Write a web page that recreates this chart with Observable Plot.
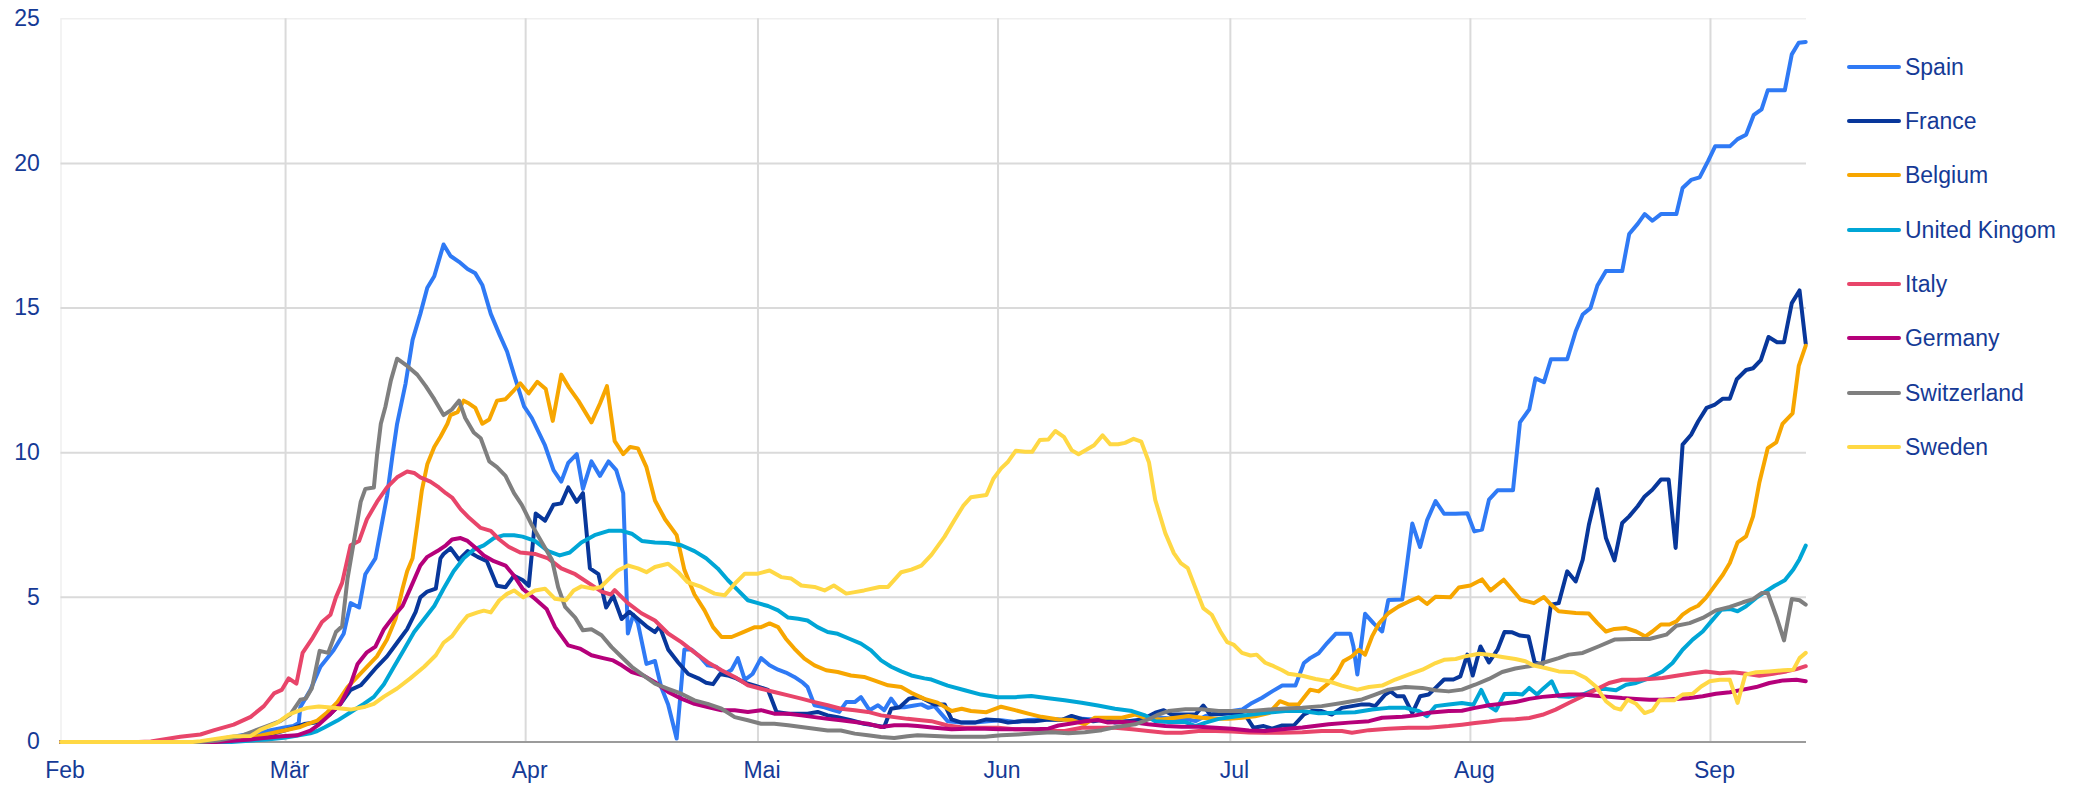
<!DOCTYPE html>
<html>
<head>
<meta charset="utf-8">
<script src="https://cdn.jsdelivr.net/npm/d3@7"></script>
<script src="https://cdn.jsdelivr.net/npm/@observablehq/plot@0.6"></script>
<style>
  html, body { margin: 0; padding: 0; background: #fff; }
  #wrap { position: relative; width: 2079px; height: 786px; overflow: hidden; font-family: "Liberation Sans", Arial, sans-serif; }
  #legend { position: absolute; left: 1846.7px; top: 0; }
  .row { position: absolute; left: 0; height: 30px; display: flex; align-items: center; white-space: nowrap;
         font-size: 23px; line-height: 30px; color: #153a96; }
  .sw { display: inline-block; width: 54px; height: 4px; border-radius: 2px; margin-right: 4.3px; }
</style>
</head>
<body>
<div id="wrap"><div id="chart"></div><div id="legend"></div></div>
<script>
// Days are counted from 1 Feb 2020 (day 0).
const countries = ["Spain", "France", "Belgium", "United Kingom", "Italy", "Germany", "Switzerland", "Sweden"];
const colors = ["#2f7af5", "#08379b", "#f7a600", "#00a6d6", "#e8456a", "#b5007a", "#7f7f7f", "#ffd844"];
const monthLabels = ["Feb", "Mär", "Apr", "Mai", "Jun", "Jul", "Aug", "Sep"];
const yTicks = [0, 5, 10, 15, 20, 25];
const lastDay = 225.4;

const spain = [[0,0],[18,0],[20.2,0.09],[26.6,0.38],[28.7,0.49],[30.0,0.55],[30.7,0.66],[30.9,1.2],[32.2,1.8],[33.5,2.6],[35.2,3.17],[36.5,3.74],[37.4,4.8],[38.5,4.65],[39.3,5.8],[40.6,6.35],[42.1,8.5],[42.8,9.9],[43.4,11.0],[44.5,12.4],[45.4,13.9],[46.4,14.8],[47.3,15.7],[48.2,16.1],[49.4,17.2],[50.3,16.8],[51.4,16.6],[52.5,16.35],[53.5,16.2],[54.4,15.8],[55.5,14.8],[56.6,14.1],[57.6,13.5],[58.5,12.7],[59.8,11.6],[60.8,11.2],[62.5,10.25],[63.6,9.4],[64.6,9.0],[65.5,9.65],[66.6,9.95],[67.4,8.75],[68.5,9.7],[69.6,9.2],[70.7,9.7],[71.7,9.4],[72.6,8.6],[73.2,3.75],[73.9,4.4],[74.5,4.1],[75.6,2.7],[76.7,2.8],[77.5,1.9],[78.4,1.3],[79.5,0.12],[80.5,3.2],[81.4,3.2],[82.5,2.95],[83.5,2.65],[84.6,2.6],[85.7,2.35],[86.6,2.5],[87.4,2.9],[88.3,2.15],[89.3,2.35],[90.4,2.9],[91.5,2.65],[92.6,2.5],[93.6,2.4],[94.7,2.25],[95.8,2.05],[96.4,1.9],[97.3,1.27],[98.6,1.2],[99.7,1.1],[100.5,1.04],[101.4,1.38],[102.5,1.38],[103.3,1.55],[104.4,1.1],[105.5,1.27],[106.3,1.1],[107.2,1.5],[108.0,1.2],[108.9,1.2],[110.2,1.26],[111.1,1.3],[112.0,1.18],[112.8,1.24],[114.5,0.72],[116.3,0.67],[118.0,0.67],[119.7,0.72],[121.4,0.75],[123.2,0.69],[124.9,0.76],[126.6,0.78],[128.3,0.78],[130.1,0.78],[131.8,0.8],[133.5,0.78],[135.2,0.78],[137.0,0.72],[138.7,0.72],[140.4,0.84],[142.1,0.84],[143.9,0.8],[145.6,0.78],[146.5,0.72],[147.8,0.9],[149.5,1.01],[151.2,1.07],[152.5,1.12],[153.8,1.35],[155.1,1.53],[156.4,1.75],[157.7,1.95],[159.4,1.95],[160.5,2.73],[161.3,2.9],[162.4,3.07],[163.5,3.42],[164.6,3.74],[166.5,3.74],[166.9,3.3],[167.4,2.33],[168.4,4.43],[169.5,4.1],[170.6,3.82],[171.4,4.91],[173.2,4.93],[173.6,5.71],[174.5,7.55],[175.5,6.74],[176.4,7.66],[177.5,8.33],[178.6,7.89],[180.1,7.89],[181.6,7.91],[182.5,7.28],[183.5,7.34],[184.4,8.38],[185.5,8.7],[187.5,8.7],[188.4,11.05],[189.6,11.5],[190.4,12.57],[191.5,12.44],[192.4,13.23],[194.5,13.23],[195.6,14.2],[196.5,14.78],[197.5,15.0],[198.4,15.78],[199.5,16.28],[201.6,16.28],[202.5,17.56],[203.6,17.91],[204.5,18.25],[205.5,18.02],[206.6,18.25],[208.6,18.25],[209.4,19.15],[210.5,19.43],[211.6,19.52],[212.7,20.09],[213.6,20.59],[215.5,20.59],[216.5,20.84],[217.6,20.99],[218.6,21.68],[219.6,21.87],[220.4,22.53],[222.6,22.53],[223.5,23.77],[224.4,24.17],[225.3,24.2]];

const france = [[0,0],[18,0],[22.0,0.09],[26.6,0.23],[28.6,0.38],[30.0,0.49],[31.4,0.62],[33.1,0.68],[34.8,0.97],[36.1,1.32],[37.4,1.8],[38.7,1.96],[39.5,2.2],[40.8,2.6],[42.1,2.96],[43.4,3.43],[44.7,3.9],[45.8,4.5],[46.4,5.0],[47.3,5.2],[48.4,5.3],[49.0,6.35],[49.4,6.5],[50.3,6.7],[51.4,6.3],[52.5,6.6],[53.8,6.4],[55.0,6.25],[56.3,5.4],[57.4,5.35],[58.5,5.75],[59.6,5.6],[60.4,5.4],[61.3,7.9],[62.5,7.65],[63.6,8.2],[64.6,8.25],[65.5,8.8],[66.6,8.3],[67.4,8.6],[68.3,6.0],[69.4,5.8],[70.4,4.65],[71.3,5.05],[72.4,4.25],[73.4,4.5],[74.5,4.25],[75.6,4.0],[76.7,3.8],[77.3,4.0],[78.4,3.2],[79.7,2.75],[81.0,2.35],[82.3,2.2],[83.3,2.05],[84.2,2.0],[85.1,2.35],[86.1,2.3],[87.2,2.2],[88.3,2.05],[89.6,1.95],[91.3,1.8],[92.4,1.04],[93.9,0.98],[95.2,0.98],[96.4,0.98],[97.7,1.04],[99.0,0.92],[100.3,0.86],[102.0,0.75],[103.7,0.63],[105.0,0.58],[106.3,0.52],[107.2,1.15],[108.3,1.2],[109.5,1.5],[110.6,1.55],[111.1,1.53],[112.8,1.3],[114.1,1.3],[115.0,0.78],[116.3,0.67],[118.0,0.67],[119.5,0.78],[121.0,0.75],[122.3,0.67],[124.0,0.72],[125.7,0.72],[127.5,0.78],[129.2,0.76],[130.5,0.9],[131.8,0.8],[133.3,0.72],[134.8,0.78],[136.1,0.67],[137.8,0.72],[139.6,0.78],[141.3,1.01],[142.4,1.1],[143.4,0.95],[145.0,0.95],[146.5,0.95],[147.5,1.26],[148.4,0.95],[149.9,0.97],[151.6,1.0],[153.0,0.9],[154.0,0.49],[155.3,0.55],[156.4,0.46],[157.7,0.57],[159.2,0.57],[160.5,0.95],[161.5,1.07],[162.8,1.07],[164.1,0.95],[165.4,1.18],[166.7,1.24],[168.0,1.3],[168.9,1.3],[169.7,1.24],[171.0,1.64],[171.7,1.75],[172.5,1.58],[173.4,1.58],[174.5,1.0],[175.5,1.58],[176.6,1.64],[177.5,1.87],[178.6,2.16],[179.8,2.16],[180.7,2.27],[181.6,3.02],[182.3,2.3],[183.3,3.3],[184.4,2.75],[185.5,3.19],[186.4,3.8],[187.4,3.79],[188.4,3.68],[189.5,3.65],[190.3,2.75],[191.3,2.67],[192.4,4.75],[193.4,4.8],[194.5,5.9],[195.6,5.55],[196.5,6.3],[197.3,7.51],[198.4,8.74],[199.5,7.05],[200.6,6.28],[201.6,7.57],[202.5,7.8],[203.6,8.15],[204.5,8.49],[205.5,8.72],[206.6,9.07],[207.6,9.07],[208.5,6.71],[209.4,10.28],[210.5,10.62],[211.4,11.08],[212.5,11.55],[213.5,11.65],[214.6,11.87],[215.5,11.87],[216.4,12.54],[217.6,12.86],[218.5,12.92],[219.5,13.2],[220.5,14.0],[221.6,13.82],[222.5,13.82],[223.5,15.17],[224.5,15.61],[225.3,13.77]];

const belgium = [[0,0],[20,0],[24.5,0.15],[28.5,0.38],[30.9,0.52],[31.8,0.62],[33.1,0.74],[34.4,1.03],[35.7,1.38],[37.0,1.9],[38.3,2.26],[39.5,2.6],[40.8,2.96],[42.1,3.54],[43.2,4.25],[44.1,5.3],[44.7,5.9],[45.4,6.35],[46.0,7.5],[46.6,8.7],[47.3,9.6],[48.2,10.2],[49.0,10.55],[49.9,11.0],[50.3,11.3],[51.2,11.4],[52.0,11.8],[52.7,11.7],[53.5,11.55],[54.4,11.0],[55.3,11.15],[56.3,11.8],[57.4,11.85],[58.3,12.1],[59.3,12.4],[60.4,12.05],[61.5,12.45],[62.6,12.2],[63.5,11.1],[64.6,12.7],[65.6,12.25],[66.8,11.8],[68.5,11.05],[69.6,11.7],[70.5,12.3],[71.5,10.4],[72.6,9.95],[73.5,10.2],[74.5,10.15],[75.6,9.5],[76.7,8.35],[78.0,7.7],[79.5,7.15],[80.5,5.95],[81.8,5.1],[83.1,4.55],[84.2,3.97],[85.3,3.63],[86.6,3.63],[88.1,3.8],[89.6,3.97],[90.4,3.97],[91.5,4.1],[92.6,3.97],[93.6,3.57],[94.7,3.23],[96.0,2.88],[97.3,2.65],[98.8,2.48],[100.3,2.42],[102.0,2.3],[103.7,2.25],[105.0,2.13],[106.8,1.96],[108.5,1.9],[109.8,1.7],[111.5,1.49],[113.2,1.36],[115.0,1.07],[116.3,1.15],[117.5,1.07],[119.5,1.03],[121.4,1.22],[123.2,1.1],[124.9,0.98],[126.6,0.87],[128.8,0.78],[130.5,0.76],[132.2,0.61],[133.5,0.84],[135.2,0.84],[137.0,0.84],[138.7,0.95],[140.4,0.8],[142.1,0.78],[143.9,0.84],[145.6,0.9],[147.3,0.84],[149.1,0.8],[150.8,0.8],[152.5,0.84],[154.2,0.89],[156.0,1.0],[157.4,1.41],[158.5,1.3],[159.8,1.3],[161.3,1.81],[162.4,1.75],[163.7,2.04],[164.8,2.39],[165.6,2.79],[166.7,2.96],[167.6,3.19],[168.4,3.02],[169.3,3.65],[170.2,4.1],[171.4,4.45],[172.7,4.68],[174.0,4.85],[175.3,5.0],[176.4,4.77],[177.5,5.02],[179.4,5.0],[180.5,5.34],[182.0,5.41],[183.5,5.62],[184.6,5.24],[186.3,5.61],[188.5,4.92],[190.2,4.8],[191.5,5.01],[192.4,4.75],[193.4,4.52],[195.6,4.46],[197.3,4.44],[198.4,4.11],[199.5,3.82],[200.6,3.91],[202.1,3.94],[203.4,3.82],[204.6,3.65],[205.5,3.82],[206.6,4.06],[207.7,4.06],[208.6,4.17],[209.4,4.4],[210.3,4.57],[211.4,4.71],[212.4,4.98],[213.5,5.38],[214.6,5.78],[215.5,6.19],[216.5,6.9],[217.6,7.11],[218.5,7.8],[219.3,8.95],[220.4,10.16],[221.5,10.36],[222.3,11.0],[223.6,11.36],[224.4,13.0],[225.3,13.7]];

const unitedKingdom = [[0,0],[22,0],[26.6,0.09],[28.8,0.15],[30.0,0.2],[32.2,0.3],[33.1,0.38],[34.0,0.5],[35.7,0.74],[37.4,1.03],[39.1,1.32],[40.4,1.56],[41.7,2.0],[43.0,2.6],[44.3,3.2],[45.6,3.8],[46.9,4.25],[48.2,4.7],[49.4,5.3],[50.7,5.9],[52.0,6.35],[53.3,6.65],[54.6,6.8],[55.9,7.05],[57.2,7.15],[58.5,7.15],[59.6,7.1],[61.2,6.95],[62.9,6.6],[64.4,6.45],[65.7,6.55],[67.2,6.9],[68.9,7.15],[70.7,7.3],[72.4,7.3],[73.7,7.2],[75.0,6.95],[76.7,6.9],[78.4,6.88],[80.1,6.8],[81.8,6.6],[83.3,6.35],[84.8,6.0],[86.1,5.6],[87.4,5.25],[88.7,4.9],[90.0,4.8],[91.3,4.7],[92.6,4.55],[93.9,4.3],[95.2,4.26],[96.4,4.2],[97.7,3.97],[99.0,3.8],[100.3,3.74],[101.8,3.57],[103.3,3.4],[104.6,3.17],[105.9,2.82],[107.2,2.6],[108.5,2.44],[109.8,2.3],[111.5,2.2],[112.4,2.16],[114.5,1.95],[116.7,1.79],[118.8,1.64],[121.0,1.55],[123.2,1.55],[125.3,1.59],[127.5,1.51],[129.6,1.44],[131.8,1.36],[133.9,1.26],[136.1,1.15],[138.3,1.07],[140.0,0.92],[141.3,0.72],[143.0,0.69],[145.2,0.69],[146.5,0.55],[147.8,0.67],[149.5,0.8],[151.6,0.88],[153.8,0.95],[156.0,1.02],[158.1,1.07],[160.3,1.07],[162.4,0.99],[165.0,1.01],[167.1,1.03],[169.3,1.12],[171.4,1.18],[173.6,1.18],[175.3,1.07],[176.4,0.89],[177.5,1.24],[179.2,1.3],[180.9,1.35],[182.4,1.29],[183.4,1.8],[184.4,1.24],[185.3,1.09],[186.4,1.66],[187.8,1.67],[188.7,1.64],[189.6,1.87],[190.6,1.64],[191.5,1.87],[192.5,2.1],[193.4,1.58],[194.7,1.56],[196.5,1.64],[198.2,1.83],[199.5,1.83],[200.8,1.79],[202.1,1.98],[203.4,2.04],[205.1,2.21],[206.8,2.44],[208.1,2.73],[209.4,3.19],[210.7,3.54],[212.0,3.82],[213.1,4.17],[214.4,4.57],[215.5,4.6],[216.5,4.52],[217.6,4.69],[218.9,4.98],[220.2,5.21],[221.3,5.4],[222.6,5.59],[223.7,5.96],[224.5,6.32],[225.3,6.79]];

const italy = [[0,0],[10,0],[11.6,0.02],[15.4,0.18],[18.0,0.26],[19.8,0.41],[22.3,0.6],[24.5,0.87],[26.2,1.24],[27.5,1.68],[28.5,1.8],[29.4,2.2],[30.4,2.02],[31.2,3.08],[32.5,3.6],[33.7,4.15],[34.8,4.4],[35.5,5.0],[36.3,5.5],[37.4,6.8],[38.5,6.95],[39.5,7.7],[40.8,8.3],[42.1,8.8],[43.4,9.15],[44.7,9.35],[45.6,9.3],[46.4,9.15],[47.7,9.0],[48.8,8.8],[49.7,8.6],[50.5,8.45],[51.6,8.05],[52.7,7.75],[54.2,7.4],[55.5,7.3],[56.6,7.0],[57.8,6.75],[59.3,6.55],[61.2,6.5],[62.9,6.35],[64.6,6.0],[66.4,5.8],[68.1,5.5],[69.8,5.2],[71.0,5.1],[71.5,5.25],[73.2,4.8],[74.95,4.45],[76.7,4.2],[78.4,3.75],[80.1,3.45],[81.8,3.1],[83.5,2.76],[85.3,2.48],[87.0,2.25],[88.7,1.96],[90.4,1.84],[92.1,1.73],[93.9,1.61],[95.6,1.5],[97.3,1.38],[99.0,1.27],[100.7,1.15],[102.5,1.1],[104.2,1.04],[105.9,0.92],[107.6,0.86],[109.3,0.8],[111.1,0.75],[112.4,0.72],[114.5,0.57],[116.7,0.49],[118.8,0.49],[121.0,0.49],[123.2,0.44],[125.3,0.44],[127.5,0.38],[129.6,0.38],[131.8,0.49],[133.9,0.49],[136.1,0.49],[138.3,0.44],[140.4,0.38],[142.6,0.32],[144.7,0.32],[146.9,0.38],[149.1,0.38],[151.2,0.36],[153.4,0.33],[155.5,0.32],[157.7,0.32],[160.3,0.34],[162.8,0.38],[165.4,0.38],[166.7,0.32],[168.9,0.41],[171.4,0.46],[174.0,0.49],[176.6,0.49],[179.2,0.55],[180.9,0.6],[182.6,0.66],[184.4,0.71],[186.1,0.77],[187.8,0.79],[189.6,0.83],[191.3,0.94],[193.0,1.12],[194.7,1.35],[196.5,1.58],[198.2,1.81],[199.9,2.04],[201.6,2.15],[203.4,2.15],[205.1,2.18],[206.8,2.21],[208.6,2.29],[210.7,2.38],[212.4,2.44],[214.2,2.38],[215.9,2.41],[217.6,2.36],[219.3,2.29],[221.1,2.36],[222.8,2.44],[224.1,2.52],[225.3,2.62]];

const germany = [[0,0],[20,0],[24.5,0.09],[28.5,0.2],[30.5,0.23],[32.2,0.39],[33.3,0.6],[34.8,0.97],[36.1,1.32],[37.4,2.0],[38.3,2.7],[39.5,3.1],[40.6,3.3],[41.7,3.9],[43.0,4.36],[44.1,4.7],[45.1,5.3],[46.4,6.1],[47.3,6.4],[48.6,6.6],[49.7,6.8],[50.5,7.0],[51.6,7.05],[52.5,6.95],[53.8,6.65],[54.6,6.45],[55.9,6.25],[57.4,6.1],[58.5,5.75],[59.6,5.3],[61.2,4.95],[62.7,4.6],[63.8,3.97],[65.5,3.34],[67.0,3.23],[68.5,3.0],[70.0,2.9],[71.3,2.82],[72.4,2.65],[73.7,2.42],[75.2,2.3],[76.7,2.07],[78.4,1.73],[80.1,1.5],[81.8,1.32],[83.5,1.21],[85.3,1.1],[87.0,1.1],[88.7,1.04],[90.4,1.1],[92.1,0.98],[93.9,0.98],[95.6,0.92],[97.3,0.86],[99.0,0.8],[100.7,0.75],[102.5,0.69],[104.2,0.63],[105.9,0.52],[107.6,0.58],[109.3,0.58],[110.6,0.55],[112.8,0.49],[115.0,0.44],[117.1,0.46],[119.3,0.46],[121.4,0.44],[123.6,0.44],[125.7,0.44],[127.5,0.46],[128.8,0.57],[130.5,0.64],[132.2,0.72],[133.9,0.76],[135.2,0.67],[137.0,0.69],[138.7,0.67],[140.4,0.61],[142.6,0.55],[144.7,0.53],[146.9,0.53],[149.1,0.49],[151.2,0.46],[153.4,0.4],[155.5,0.38],[157.7,0.44],[160.3,0.5],[163.7,0.61],[166.3,0.67],[168.9,0.72],[170.6,0.84],[173.2,0.87],[174.9,0.92],[176.6,1.01],[179.2,1.07],[180.9,1.08],[182.6,1.18],[184.4,1.27],[186.1,1.32],[187.8,1.38],[189.6,1.49],[191.3,1.56],[193.0,1.6],[194.7,1.64],[196.5,1.64],[198.2,1.6],[199.9,1.56],[201.6,1.52],[203.4,1.49],[205.1,1.46],[206.8,1.46],[208.6,1.49],[210.3,1.52],[212.0,1.58],[213.7,1.67],[215.5,1.72],[217.2,1.81],[218.9,1.9],[220.6,2.04],[222.4,2.13],[224.1,2.15],[225.3,2.1]];

const switzerland = [[0,0],[18,0],[20.2,0.05],[23.2,0.2],[24.9,0.38],[26.6,0.55],[28.3,0.72],[29.6,0.95],[30.9,1.46],[31.6,1.5],[32.4,1.86],[33.4,3.15],[34.5,3.08],[35.5,3.8],[36.3,4.0],[37.0,5.65],[37.8,6.9],[38.7,8.3],[39.3,8.75],[40.4,8.8],[40.8,9.9],[41.3,11.0],[41.9,11.6],[42.6,12.5],[43.4,13.25],[44.7,13.0],[46.0,12.7],[47.1,12.3],[48.2,11.85],[49.4,11.3],[50.5,11.5],[51.4,11.8],[52.2,11.2],[53.3,10.7],[54.2,10.5],[55.3,9.7],[56.3,9.5],[57.4,9.2],[58.5,8.6],[59.5,8.2],[60.8,7.5],[62.1,6.9],[63.4,6.3],[64.2,5.35],[65.1,4.67],[66.4,4.3],[67.4,3.86],[68.5,3.9],[69.8,3.69],[71.1,3.28],[72.4,2.94],[73.7,2.6],[75.2,2.3],[76.7,2.02],[78.4,1.84],[80.1,1.67],[81.8,1.44],[83.5,1.32],[85.3,1.15],[87.0,0.86],[88.7,0.75],[90.4,0.63],[92.1,0.63],[93.9,0.58],[95.6,0.52],[97.3,0.46],[99.0,0.4],[100.7,0.4],[102.5,0.29],[104.2,0.23],[105.9,0.17],[107.6,0.14],[109.3,0.2],[110.6,0.23],[112.8,0.21],[115.0,0.18],[117.1,0.18],[119.3,0.18],[121.4,0.23],[123.6,0.26],[125.7,0.3],[127.9,0.34],[130.1,0.3],[132.2,0.34],[134.4,0.41],[136.5,0.53],[138.7,0.61],[140.4,0.78],[141.7,0.95],[143.0,1.07],[145.2,1.13],[147.3,1.13],[149.5,1.07],[151.6,1.07],[153.8,1.07],[156.0,1.12],[158.1,1.16],[160.3,1.18],[162.8,1.24],[165.4,1.35],[168.0,1.47],[169.7,1.64],[171.4,1.81],[173.6,1.9],[175.8,1.87],[177.5,1.79],[179.2,1.75],[180.9,1.81],[182.6,1.98],[184.4,2.18],[186.1,2.42],[187.8,2.54],[189.6,2.62],[191.3,2.73],[193.4,2.9],[194.7,3.02],[196.5,3.08],[198.6,3.31],[200.6,3.54],[202.9,3.56],[205.1,3.56],[207.3,3.71],[208.6,4.02],[210.3,4.11],[212.0,4.29],[213.7,4.55],[215.5,4.67],[217.2,4.83],[218.5,4.94],[219.6,5.15],[220.4,5.15],[221.5,4.34],[222.5,3.51],[223.5,4.94],[224.5,4.9],[225.3,4.75]];

const sweden = [[0,0],[17,0],[18.0,0.03],[22.3,0.2],[24.5,0.21],[25.8,0.43],[27.9,0.66],[29.4,0.95],[30.9,1.1],[31.8,1.18],[33.3,1.23],[35.2,1.18],[37.4,1.12],[39.3,1.22],[40.4,1.32],[41.7,1.57],[43.4,1.85],[45.1,2.2],[46.9,2.6],[48.4,3.0],[49.4,3.43],[50.5,3.66],[51.6,4.07],[52.5,4.36],[53.8,4.48],[54.6,4.54],[55.5,4.48],[56.6,4.9],[57.6,5.12],[58.5,5.24],[59.7,5.0],[61.2,5.24],[62.5,5.3],[63.8,4.95],[65.2,4.9],[66.2,5.24],[67.2,5.38],[68.8,5.3],[69.7,5.36],[71.0,5.7],[71.9,5.93],[73.2,6.1],[74.5,6.0],[75.6,5.87],[76.7,6.05],[78.4,6.16],[79.7,5.87],[80.9,5.53],[82.7,5.36],[84.4,5.13],[85.7,5.07],[87.0,5.47],[88.3,5.82],[90.0,5.82],[91.5,5.93],[93.0,5.7],[94.3,5.65],[95.6,5.41],[97.3,5.36],[98.6,5.24],[99.8,5.41],[101.4,5.13],[102.5,5.18],[103.7,5.24],[105.7,5.36],[106.8,5.36],[108.5,5.87],[109.8,5.96],[111.1,6.1],[112.4,6.47],[114.1,7.1],[115.4,7.68],[116.5,8.16],[117.5,8.46],[119.5,8.54],[120.4,9.1],[121.4,9.46],[122.3,9.69],[123.3,10.07],[124.5,10.03],[125.4,10.03],[126.4,10.44],[127.5,10.46],[128.4,10.75],[129.5,10.55],[130.5,10.09],[131.4,9.95],[132.4,10.1],[133.4,10.26],[134.5,10.6],[135.5,10.29],[136.5,10.29],[137.4,10.34],[138.5,10.48],[139.5,10.38],[140.5,9.66],[141.3,8.37],[142.6,7.22],[143.7,6.53],[144.6,6.18],[145.5,6.01],[146.5,5.32],[147.5,4.63],[148.6,4.4],[149.7,3.83],[150.6,3.45],[151.4,3.37],[152.5,3.08],[153.6,2.99],[154.4,3.02],[155.5,2.74],[156.6,2.62],[157.7,2.48],[158.5,2.36],[160.3,2.29],[162.0,2.18],[163.7,2.1],[165.4,1.95],[167.4,1.81],[168.9,1.9],[170.6,1.95],[172.3,2.16],[174.0,2.33],[175.8,2.5],[177.5,2.73],[178.6,2.84],[180.1,2.87],[181.3,2.96],[183.1,3.05],[184.4,3.02],[186.1,2.94],[187.8,2.87],[189.1,2.79],[190.2,2.64],[191.7,2.56],[193.4,2.44],[195.4,2.41],[196.9,2.21],[198.2,1.92],[199.5,1.41],[200.6,1.18],[201.4,1.12],[202.3,1.46],[203.4,1.32],[204.5,1.0],[205.5,1.09],[206.4,1.44],[208.3,1.44],[209.4,1.64],[210.7,1.67],[211.8,1.92],[212.9,2.1],[214.2,2.15],[215.5,2.15],[216.5,1.35],[217.5,2.33],[218.9,2.41],[220.6,2.44],[222.4,2.48],[223.7,2.5],[224.5,2.9],[225.3,3.08]];

const series = [spain, france, belgium, unitedKingdom, italy, germany, switzerland, sweden];

// ---- build table ----
const start = Date.UTC(2020, 1, 1);
const toDate = d => new Date(start + d * 864e5);
const rows = [];
countries.forEach((name, i) => series[i].forEach(([d, v]) => rows.push({country: name, date: toDate(d), value: v})));
const monthStarts = d3.utcMonth.range(new Date(start), toDate(lastDay));
const textColor = "#153a96";

const chart = Plot.plot({
  width: 2079,
  height: 786,
  marginLeft: 60.5,
  marginRight: 273,
  marginTop: 18.3,
  marginBottom: 44.5,
  style: {fontFamily: "'Liberation Sans', Arial, sans-serif", fontSize: "23px", color: textColor, background: "#fff", overflow: "visible"},
  x: {type: "utc", domain: [new Date(start), toDate(lastDay)]},
  y: {domain: [0, 25]},
  color: {domain: countries, range: colors},
  marks: [
    Plot.ruleY([25], {stroke: "#efefef", strokeWidth: 1.5}),
    Plot.ruleX(monthStarts.slice(0, 1), {stroke: "#efefef", strokeWidth: 1.5}),
    Plot.ruleY(yTicks.slice(1, -1), {stroke: "#dadada", strokeWidth: 2}),
    Plot.ruleX(monthStarts.slice(1), {stroke: "#dadada", strokeWidth: 2}),
    Plot.ruleY([0], {stroke: "#9b9b9b", strokeWidth: 2}),
    Plot.axisY({ticks: yTicks, tickSize: 0, tickPadding: 21.2, fontSize: 23, label: null}),
    Plot.axisX({ticks: monthStarts, tickFormat: d => monthLabels[d.getUTCMonth() - 1], tickSize: 0, tickPadding: 20, dx: 4, fontSize: 23, label: null}),
    Plot.line(rows, {x: "date", y: "value", z: "country", stroke: "country", strokeWidth: 4, strokeLinejoin: "round", strokeLinecap: "round"})
  ]
});
document.getElementById("chart").appendChild(chart);

// ---- legend ----
const legend = d3.select("#legend");
countries.forEach((name, i) => {
  const row = legend.append("div").attr("class", "row").style("top", (51.7 + 54.3 * i) + "px");
  row.append("span").attr("class", "sw").style("background", colors[i]);
  row.append("span").text(name);
});
</script>
</body>
</html>
